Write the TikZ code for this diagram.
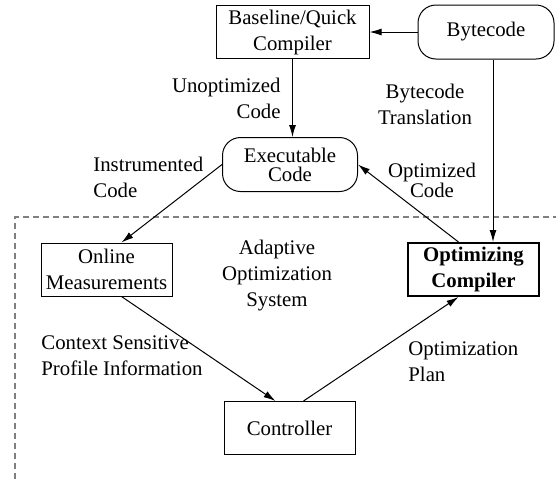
\documentclass[tikz,border=0pt]{standalone}
\usepackage{fontspec}
\setmainfont{Liberation Serif}
\usetikzlibrary{arrows.meta}

\begin{document}
\begin{tikzpicture}[
x=0.5pt,
y=0.5pt,
font=\fontsize{10.4}{13}\selectfont,
blk/.style={%
draw,
line width=0.5pt,
minimum width=65.5pt,
minimum height=26.5pt,
inner sep=0pt,
align=center,
},
blob/.style={%
draw,
rounded corners=9pt,
line width=0.5pt,
minimum width=68pt,
minimum height=27pt,
inner sep=0pt,
align=center,
},
lbl/.style={%
inner sep=0pt,
},
arr/.style={%
arrows=-{Latex[length=6pt,width=3.5pt]},
line width=0.5pt,
},
sys/.style={%
draw=gray,
line width=0.8pt,
dash pattern=on 3pt off 2pt,
}
]
\useasboundingbox(0,0)rectangle(556,-479);
%% Adaptive optimization system
\draw[sys](15,-479)--(15,-217)--(556,-217);
%% Compilers and code
\node[blk, minimum width=76.5pt]at(292.5,-32)(base){Baseline/Quick\\Compiler};
\node[blob]at(486,-32)(bc){Bytecode};
\node[blob, minimum width=67.5pt, font=\fontsize{10.4}{9.5}\selectfont]at(290,-164.5)(exe){Executable\\Code};
\node[blk]at(106.5,-269.5)(om){Online\\Measurements};
\node[blk, line width=1pt, font=\fontsize{10.4}{13}\selectfont\bfseries]at(473.5,-269.5)(oc){Optimizing\\Compiler};
\node[blk]at(289.5,-428)(ctl){Controller};
%% Connectors
\draw[arr](bc.west)--(base.east);
\draw[arr](base.south)--(base.south|-exe.north);
\draw[arr]([xshift=3.5pt]bc.south)--([xshift=3.5pt]bc.south|-oc.north);
\draw[arr](exe.west)--([xshift=7.5pt]om.north);
\draw[arr]([xshift=-7.5pt]oc.north)--(exe.east);
\draw[arr]([xshift=7.5pt]om.south)--([xshift=-7pt]ctl.north);
\draw[arr]([xshift=7pt]ctl.north)--([xshift=-7.5pt]oc.south);
%% Labels
\node[lbl, align=right, anchor=east]at(281,-98.5)(l_unopt){Unoptimized\\Code};
\node[lbl, align=center]at(425,-104.5)(l_bct){Bytecode\\Translation};
\node[lbl, align=left, anchor=west]at(93,-177)(l_instr){Instrumented\\Code};
\node[lbl, align=center, font=\fontsize{10.4}{10}\selectfont]at(432,-180)(l_opt){Optimized\\Code};
\node[lbl, align=center]at(277,-276)(l_aos){Adaptive\\Optimization\\System};
\node[lbl, align=left, anchor=west]at(41,-355.5)(l_prof){Context Sensitive\\Profile Information};
\node[lbl, align=left, anchor=west]at(408,-362)(l_plan){Optimization\\Plan};
\end{tikzpicture}
\end{document}
